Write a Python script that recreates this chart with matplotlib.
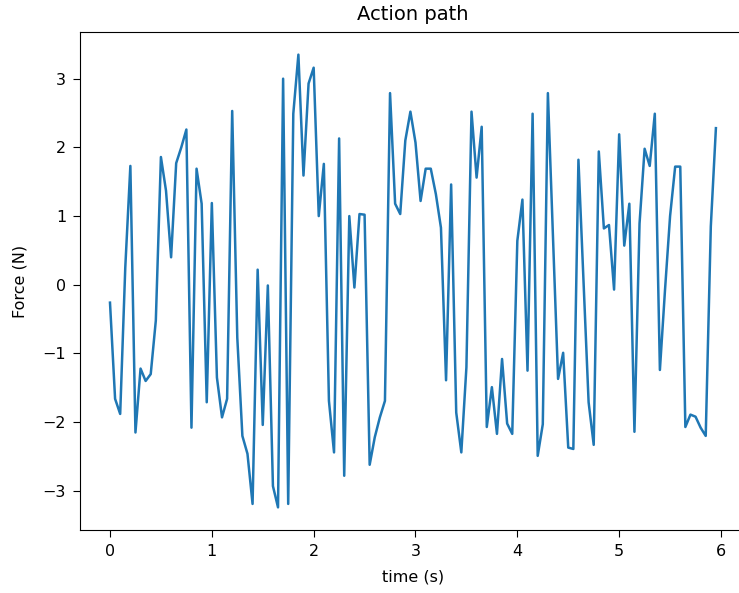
import numpy as np
import matplotlib
matplotlib.use("Agg")
import matplotlib.pyplot as plt

dt = 0.05
force = [
    -0.26, -1.66, -1.88, 0.25, 1.73, -2.15, -1.22, -1.40, -1.30, -0.52,
    1.86, 1.37, 0.40, 1.77, 2.00, 2.26, -2.08, 1.69, 1.18, -1.71,
    1.19, -1.35, -1.93, -1.66, 2.53, -0.77, -2.20, -2.46, -3.19, 0.22,
    -2.04, -0.01, -2.93, -3.24, 3.00, -3.19, 2.49, 3.35, 1.59, 2.93,
    3.16, 1.00, 1.76, -1.69, -2.44, 2.13, -2.78, 1.00, -0.04, 1.03,
    1.02, -2.62, -2.22, -1.93, -1.69, 2.79, 1.18, 1.03, 2.10, 2.52,
    2.07, 1.22, 1.69, 1.69, 1.32, 0.83, -1.39, 1.46, -1.86, -2.44,
    -1.20, 2.52, 1.56, 2.30, -2.07, -1.49, -2.17, -1.08, -2.02, -2.17,
    0.64, 1.24, -1.25, 2.49, -2.49, -2.03, 2.79, 0.70, -1.37, -0.99,
    -2.37, -2.39, 1.82, 0.05, -1.71, -2.33, 1.94, 0.82, 0.87, -0.07,
    2.19, 0.57, 1.18, -2.14, 0.89, 1.98, 1.73, 2.49, -1.24, -0.08,
    1.00, 1.72, 1.72, -2.07, -1.89, -1.92, -2.08, -2.20, 0.85, 2.28,
]
time = np.arange(len(force)) * dt

fig = plt.figure(figsize=(7.39, 5.93), dpi=100)
ax = fig.add_axes([79.7 / 739, 63 / 593, 666.5 / 739, 498 / 593])
ax.plot(time, force, color="#1f77b4", linewidth=1.8)
ax.set_xticks([0, 1, 2, 3, 4, 5, 6])
ax.set_yticks([-3, -2, -1, 0, 1, 2, 3])
ax.tick_params(labelsize=11.5, length=4.8, pad=5)
ax.set_xlabel("time (s)", fontsize=11.5, labelpad=8)
ax.set_ylabel("Force (N)", fontsize=11.5, labelpad=11)
ax.set_title("Action path", fontsize=14, pad=8.5)
fig.savefig("out.png", dpi=100)
